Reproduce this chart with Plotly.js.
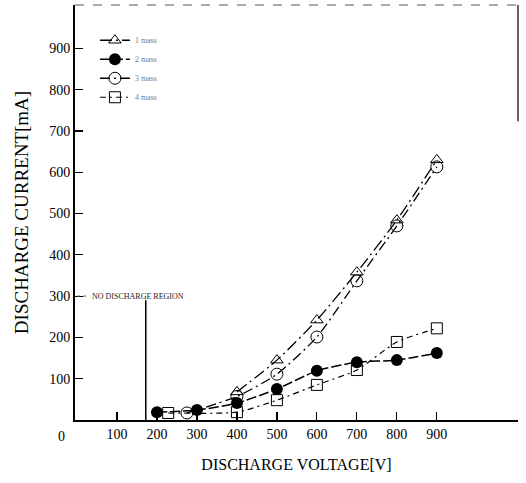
<!DOCTYPE html>
<html>
<head>
<meta charset="utf-8">
<script src="https://cdn.plot.ly/plotly-3.0.1.min.js"></script>
<style>html,body{margin:0;padding:0;background:#fff;}#chart{width:526px;height:483px;}</style>
</head>
<body>
<div id="chart"></div>
<script>
// Data (discharge voltage [V] vs discharge current [mA])
const triVoltage = [400, 500, 600, 700, 800, 900];
const triCurrent = [68, 145, 242, 358, 484, 630];

const filledVoltage = [200, 300, 400, 500, 600, 700, 800, 900];
const filledCurrent = [19, 24, 41, 75, 119, 140, 145, 162];

const openVoltage = [275, 400, 500, 600, 700, 800, 900];
const openCurrent = [17, 57, 111, 201, 337, 470, 613];

const squareVoltage = [228, 400, 500, 600, 700, 800, 900];
const squareCurrent = [17, 19, 48, 85, 121, 189, 222];

const seriesNames = ["1 mass", "2 mass", "3 mass", "4 mass"];
const tickValues = [100, 200, 300, 400, 500, 600, 700, 800, 900];
const tickLabels = ["100", "200", "300", "400", "500", "600", "700", "800", "900"];
const noDischargeVoltage = 172;
const noDischargeCurrent = 300;

const serif = "Liberation Serif, Times New Roman, serif";

const traces = [
  {x: triVoltage, y: triCurrent, name: seriesNames[0], mode: "lines+markers", legendrank: 1,
   line: {color: "#000", width: 1.3, dash: "12px,4px,2px,4px", shape: "spline", smoothing: 0.6},
   marker: {symbol: "triangle-up-open", size: 11, color: "#000", line: {width: 1}}},
  {x: openVoltage, y: openCurrent, name: seriesNames[2], mode: "lines+markers", legendrank: 3,
   line: {color: "#000", width: 1.3, dash: "10px,4px,2px,4px", shape: "spline", smoothing: 0.6},
   marker: {symbol: "circle-open", size: 12, color: "#000", line: {width: 1}}},
  {x: squareVoltage, y: squareCurrent, name: seriesNames[3], mode: "lines+markers", legendrank: 4,
   line: {color: "#000", width: 1.2, dash: "6px,4px,2px,4px", shape: "spline", smoothing: 0.6},
   marker: {symbol: "square-open", size: 11, color: "#000", line: {width: 1}}},
  {x: filledVoltage, y: filledCurrent, name: seriesNames[1], mode: "lines+markers", legendrank: 2,
   line: {color: "#000", width: 1.5, dash: "10px,3px", shape: "spline", smoothing: 0.6},
   marker: {symbol: "circle", size: 12, color: "#000"}}
];

const layout = {
  width: 526, height: 483,
  margin: {l: 75, r: 8, t: 5, b: 63},
  paper_bgcolor: "#fff", plot_bgcolor: "#fff",
  font: {family: serif, color: "#000"},
  showlegend: true,
  legend: {x: 0.045, y: 0.95, xanchor: "left", yanchor: "top", bgcolor: "rgba(0,0,0,0)",
           font: {size: 8, color: "#777", family: serif}, traceorder: "normal", tracegroupgap: 12},
  xaxis: {
    range: [-5, 1103], showgrid: false, zeroline: false,
    showline: true, linecolor: "#000", linewidth: 2,
    ticks: "inside", ticklen: 8, tickwidth: 1.2, tickcolor: "#000",
    tickvals: tickValues, ticktext: tickLabels,
    tickfont: {size: 14, family: serif},
    title: {text: "DISCHARGE VOLTAGE[V]", font: {size: 16, family: serif}, standoff: 18}
  },
  yaxis: {
    range: [0, 1005], showgrid: false, zeroline: false,
    showline: true, linecolor: "#000", linewidth: 2,
    ticks: "inside", ticklen: 8, tickwidth: 1.2, tickcolor: "#000",
    tickvals: tickValues, ticktext: tickLabels,
    tickfont: {size: 14, family: serif},
    title: {text: "DISCHARGE CURRENT[mA]", font: {size: 19, family: serif}, standoff: 16}
  },
  shapes: [
    {type: "line", xref: "paper", yref: "paper", x0: 0, x1: 1, y0: 1, y1: 1,
     line: {color: "#555", width: 1, dash: "dash"}},
    {type: "line", xref: "paper", yref: "paper", x0: 1, x1: 1, y0: 1, y1: 0.72,
     line: {color: "#333", width: 1.5}},
    {type: "line", xref: "x", yref: "y", x0: noDischargeVoltage, x1: noDischargeVoltage,
     y0: 0, y1: noDischargeCurrent - 10, line: {color: "#000", width: 1.5}},
    {type: "line", xref: "x", yref: "y", x0: 0, x1: 30, y0: noDischargeCurrent, y1: noDischargeCurrent,
     line: {color: "#555", width: 1, dash: "dot"}}
  ],
  annotations: [
    {text: "NO DISCHARGE REGION", x: 32, y: noDischargeCurrent, xref: "x", yref: "y",
     xanchor: "left", yanchor: "middle", showarrow: false, font: {size: 8, color: "#222", family: serif}},
    {text: "0", xref: "paper", yref: "paper", x: -0.03, y: -0.04, xanchor: "center", yanchor: "middle",
     showarrow: false, font: {size: 14, family: serif}}
  ]
};

Plotly.newPlot("chart", traces, layout, {displayModeBar: false, staticPlot: true});
</script>
</body>
</html>
